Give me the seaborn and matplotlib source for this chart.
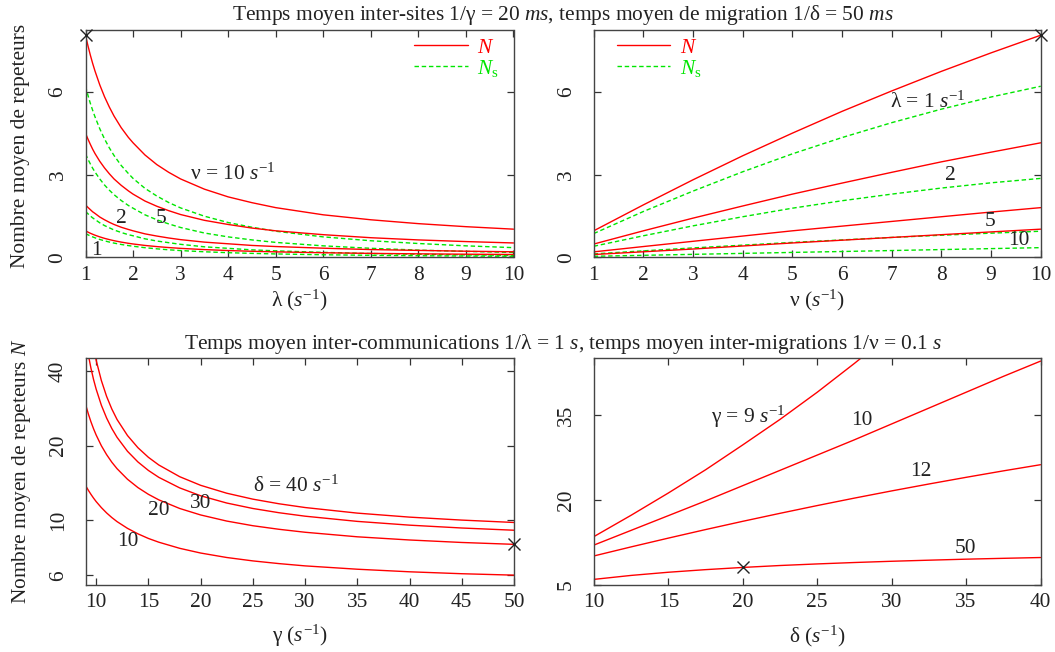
import matplotlib
matplotlib.use("Agg")
import matplotlib.pyplot as plt
from matplotlib.lines import Line2D
from matplotlib.ticker import FixedLocator, FixedFormatter, NullLocator
import seaborn as sns

# ---------------- data ----------------
# top-left: N and Ns versus lambda, one curve per nu
lam = [1, 1.05, 1.1, 1.15, 1.2, 1.3, 1.4, 1.5, 1.6, 1.75, 1.9, 2, 2.25, 2.5, 2.75,
       3, 3.5, 4, 4.5, 5, 6, 7, 8, 9, 10]
N_nu10 = [8.05, 7.68, 7.34, 7.03, 6.75, 6.25, 5.82, 5.45, 5.12, 4.70, 4.35, 4.15, 3.71, 3.36, 3.08,
          2.84, 2.47, 2.19, 1.98, 1.80, 1.54, 1.36, 1.22, 1.11, 1.02]
N_nu5 = [4.50, 4.29, 4.10, 3.92, 3.76, 3.48, 3.24, 3.03, 2.84, 2.61, 2.41, 2.29, 2.04, 1.85, 1.69,
         1.55, 1.34, 1.19, 1.06, 0.96, 0.82, 0.71, 0.63, 0.57, 0.52]
N_nu2 = [1.90, 1.81, 1.73, 1.65, 1.59, 1.46, 1.36, 1.27, 1.19, 1.09, 1.01, 0.96, 0.85, 0.77, 0.70,
         0.64, 0.55, 0.49, 0.43, 0.39, 0.33, 0.28, 0.25, 0.22, 0.20]
N_nu1 = [0.96, 0.915, 0.873, 0.836, 0.801, 0.740, 0.687, 0.642, 0.602, 0.551, 0.508, 0.483, 0.430,
         0.388, 0.353, 0.324, 0.279, 0.245, 0.218, 0.197, 0.165, 0.142, 0.125, 0.112, 0.101]
Ns_nu10 = [6.20, 5.88, 5.59, 5.33, 5.09, 4.66, 4.29, 3.97, 3.69, 3.33, 3.04, 2.86, 2.50, 2.22, 1.985,
           1.79, 1.49, 1.26, 1.09, 0.945, 0.74, 0.60, 0.50, 0.415, 0.35]
Ns_nu5 = [3.75, 3.56, 3.39, 3.23, 3.09, 2.84, 2.62, 2.435, 2.27, 2.06, 1.88, 1.78, 1.54, 1.36, 1.21,
          1.08, 0.88, 0.74, 0.63, 0.54, 0.415, 0.326, 0.261, 0.214, 0.177]
Ns_nu2 = [1.66, 1.58, 1.50, 1.43, 1.37, 1.25, 1.15, 1.07, 0.99, 0.90, 0.82, 0.78, 0.67, 0.59, 0.53,
          0.47, 0.38, 0.325, 0.27, 0.234, 0.179, 0.137, 0.110, 0.088, 0.072]
Ns_nu1 = [0.86, 0.816, 0.775, 0.740, 0.706, 0.647, 0.597, 0.553, 0.515, 0.466, 0.425, 0.401, 0.348,
          0.307, 0.272, 0.244, 0.200, 0.167, 0.142, 0.122, 0.092, 0.072, 0.057, 0.046, 0.037]

# top-right: N and Ns versus nu, one curve per lambda
nu = [1, 2, 3, 4, 5, 6, 7, 8, 9, 10]
N_lam1 = [0.96, 1.90, 2.81, 3.68, 4.50, 5.29, 6.03, 6.74, 7.41, 8.05]
N_lam2 = [0.48, 0.96, 1.42, 1.86, 2.29, 2.69, 3.08, 3.46, 3.81, 4.15]
N_lam5 = [0.197, 0.39, 0.58, 0.77, 0.96, 1.13, 1.30, 1.47, 1.64, 1.80]
N_lam10 = [0.101, 0.20, 0.30, 0.41, 0.52, 0.62, 0.72, 0.82, 0.92, 1.02]
Ns_lam1 = [0.86, 1.66, 2.40, 3.10, 3.75, 4.34, 4.88, 5.37, 5.81, 6.20]
Ns_lam2 = [0.40, 0.78, 1.14, 1.47, 1.78, 2.05, 2.29, 2.51, 2.70, 2.86]
Ns_lam5 = [0.122, 0.234, 0.34, 0.44, 0.54, 0.63, 0.72, 0.80, 0.875, 0.945]
Ns_lam10 = [0.037, 0.072, 0.107, 0.142, 0.177, 0.21, 0.245, 0.28, 0.315, 0.35]

# bottom-left: N versus gamma, one curve per delta
gam = [9, 9.25, 9.5, 9.75, 10, 10.5, 11, 11.5, 12, 13, 14, 15, 16, 18, 20,
       22.5, 25, 27.5, 30, 35, 40, 45, 50]
N_d10 = [13.78, 13.22, 12.73, 12.29, 11.90, 11.25, 10.71, 10.26, 9.88, 9.28, 8.82, 8.45, 8.16,
         7.71, 7.38, 7.08, 6.86, 6.69, 6.55, 6.35, 6.20, 6.09, 6.01]
N_d20 = [29.2, 26.87, 24.97, 23.40, 22.08, 19.98, 18.40, 17.15, 16.15, 14.64, 13.55, 12.73, 12.09,
         11.16, 10.51, 9.93, 9.51, 9.20, 8.95, 8.58, 8.33, 8.14, 8.00]
N_d30 = [54.1, 46.5, 41.1, 36.98, 33.8, 29.1, 25.85, 23.45, 21.61, 18.98, 17.19, 15.89, 14.90,
         13.51, 12.56, 11.74, 11.16, 10.73, 10.39, 9.90, 9.56, 9.31, 9.12]
N_d40 = [86.4, 68.7, 57.6, 49.9, 44.2, 36.6, 31.6, 28.1, 25.5, 21.97, 19.62, 17.95, 16.71,
         14.99, 13.84, 12.86, 12.17, 11.66, 11.26, 10.69, 10.30, 10.02, 9.80]

# bottom-right: N versus delta, one curve per gamma
dlt = [10, 12.5, 15, 17.5, 20, 22.5, 25, 27.5, 30, 32.5, 35, 37.5, 40]
N_g9 = [13.5, 17.27, 21.2, 25.3, 29.7, 34.2, 39.0, 44.1, 49.4]
N_g10 = [12.0, 14.6, 17.2, 19.8, 22.5, 25.2, 27.9, 30.6, 33.4, 36.2, 39.0, 41.8, 44.5]
N_g12 = [10.08, 11.68, 13.23, 14.74, 16.2, 17.61, 18.98, 20.30, 21.57, 22.79, 23.97, 25.11, 26.2]
N_g50 = [5.94, 6.64, 7.20, 7.66, 8.05, 8.39, 8.67, 8.92, 9.14, 9.33, 9.51, 9.66, 9.80]

# ---------------- style ----------------
sns.set_theme(style="ticks")
plt.rcParams['font.family'] = ['Liberation Serif', 'DejaVu Serif']
plt.rcParams['mathtext.fontset'] = 'custom'
plt.rcParams['mathtext.rm'] = 'Liberation Serif'
plt.rcParams['mathtext.it'] = 'Liberation Serif:italic'
plt.rcParams['mathtext.bf'] = 'Liberation Serif:bold'

RED = '#ff0000'
GREEN = '#00e600'
INK = '#222222'
FS = 15.4
DASH = (3.2, 2.0)

fig = plt.figure(figsize=(10.55, 6.52), dpi=100)
W, H = 1055.0, 652.0


def make_axes(x0, x1, y0, y1):
    return fig.add_axes([x0 / W, 1 - y1 / H, (x1 - x0) / W, (y1 - y0) / H])


ax_tl = make_axes(85.5, 513.5, 29.7, 257.3)
ax_tr = make_axes(593.7, 1040.7, 29.7, 257.3)
ax_bl = make_axes(85.7, 514.0, 358.3, 584.7)
ax_br = make_axes(593.9, 1040.5, 358.3, 584.7)


def curve(ax, x, y, color, dashed=False):
    sns.lineplot(x=x, y=y, ax=ax, color=color, lw=1.0, estimator=None, sort=False)
    line = ax.lines[-1]
    if dashed:
        line.set_dashes(DASH)
    return line


def style_axes(ax):
    for sp in ax.spines.values():
        sp.set_color('#444444')
        sp.set_linewidth(1.0)
    ax.tick_params(direction='in', length=5, width=0.9, color='#333333',
                   top=True, right=True, labelsize=FS, labelcolor=INK)
    ax.tick_params(axis='x', pad=6)
    ax.tick_params(axis='y', pad=13, labelrotation=90)
    for lb in ax.get_yticklabels():
        lb.set_va('center')


def mark(ax, x, y):
    ax.plot([x], [y], marker='x', color=INK, ms=8, mew=1.0, ls='none',
            clip_on=False, zorder=6)


# ---- top-left ----
for yN, yS in [(N_nu10, Ns_nu10), (N_nu5, Ns_nu5), (N_nu2, Ns_nu2), (N_nu1, Ns_nu1)]:
    curve(ax_tl, lam, yN, RED)
    curve(ax_tl, lam, yS, GREEN, dashed=True)
ax_tl.set_xlim(1, 10)
ax_tl.set_ylim(0, 8.25)
ax_tl.set_xticks(range(1, 11))
ax_tl.set_yticks([0, 3, 6])
mark(ax_tl, lam[0], N_nu10[0])
ax_tl.text(3.2, 3.0, r'ν = 10 $s^{-1}$', fontsize=FS, color=INK, ha='left', va='center')
ax_tl.text(1.75, 1.42, '2', fontsize=FS, color=INK, ha='center', va='center')
ax_tl.text(2.58, 1.40, '5', fontsize=FS, color=INK, ha='center', va='center')
ax_tl.text(1.23, 0.25, '1', fontsize=FS, color=INK, ha='center', va='center')
ax_tl.set_xlabel(r'λ ($s^{-1}$)', fontsize=FS, color=INK)
ax_tl.set_ylabel('Nombre moyen de repeteurs', fontsize=FS, color=INK)

# ---- top-right ----
for yN, yS in [(N_lam1, Ns_lam1), (N_lam2, Ns_lam2), (N_lam5, Ns_lam5), (N_lam10, Ns_lam10)]:
    curve(ax_tr, nu, yN, RED)
    curve(ax_tr, nu, yS, GREEN, dashed=True)
ax_tr.set_xlim(1, 10)
ax_tr.set_ylim(0, 8.25)
ax_tr.set_xticks(range(1, 11))
ax_tr.set_yticks([0, 3, 6])
mark(ax_tr, nu[-1], N_lam1[-1])
ax_tr.text(6.97, 5.61, r'λ = 1 $s^{-1}$', fontsize=FS, color=INK, ha='left', va='center')
ax_tr.text(8.19, 2.96, '2', fontsize=FS, color=INK, ha='center', va='center')
ax_tr.text(8.99, 1.28, '5', fontsize=FS, color=INK, ha='center', va='center')
ax_tr.text(9.55, 0.61, '10', fontsize=FS, color=INK, ha='center', va='center')
ax_tr.set_xlabel(r'ν ($s^{-1}$)', fontsize=FS, color=INK)


# legends of the two top panels
def add_legend(ax, x_anchor):
    handles = [Line2D([], [], color=RED, lw=1.0),
               Line2D([], [], color=GREEN, lw=1.0, dashes=DASH)]
    leg = ax.legend(handles, [r'$N$', r'$N_{\mathrm{s}}$'], loc='upper left',
                    bbox_to_anchor=(x_anchor, 0.965), frameon=False, fontsize=FS,
                    handlelength=2.5, handletextpad=0.45, labelspacing=0.0,
                    borderpad=0, borderaxespad=0)
    for txt, col in zip(leg.get_texts(), [RED, GREEN]):
        txt.set_color(col)


add_legend(ax_tl, 0.768)
add_legend(ax_tr, 0.052)

# ---- bottom-left ----
for yN in [N_d10, N_d20, N_d30, N_d40]:
    curve(ax_bl, gam, yN, RED)
ax_bl.set_yscale('log')
ax_bl.set_xlim(9, 50)
ax_bl.set_ylim(5.5, 45)
ax_bl.set_xticks(range(10, 51, 5))
ax_bl.yaxis.set_major_locator(FixedLocator([6, 10, 20, 40]))
ax_bl.yaxis.set_major_formatter(FixedFormatter(['6', '10', '20', '40']))
ax_bl.yaxis.set_minor_locator(NullLocator())
mark(ax_bl, gam[-1], N_d20[-1])
ax_bl.text(25.0, 13.7, r'δ = 40 $s^{-1}$', fontsize=FS, color=INK, ha='left', va='center')
ax_bl.text(20.0, 11.7, '30', fontsize=FS, color=INK, ha='center', va='center')
ax_bl.text(15.95, 10.96, '20', fontsize=FS, color=INK, ha='center', va='center')
ax_bl.text(13.0, 8.19, '10', fontsize=FS, color=INK, ha='center', va='center')
ax_bl.set_xlabel(r'γ ($s^{-1}$)', fontsize=FS, color=INK)
ax_bl.set_ylabel(r'Nombre moyen de repeteurs $N$', fontsize=FS, color=INK)

# ---- bottom-right ----
curve(ax_br, dlt[:len(N_g9)], N_g9, RED)
for yN in [N_g10, N_g12, N_g50]:
    curve(ax_br, dlt, yN, RED)
ax_br.set_xlim(10, 40)
ax_br.set_ylim(5, 45)
ax_br.set_xticks(range(10, 41, 5))
ax_br.set_yticks([5, 20, 35])
mark(ax_br, dlt[4], N_g50[4])
ax_br.text(17.84, 34.7, r'γ = 9 $s^{-1}$', fontsize=FS, color=INK, ha='left', va='center')
ax_br.text(27.98, 33.95, '10', fontsize=FS, color=INK, ha='center', va='center')
ax_br.text(31.98, 24.96, '12', fontsize=FS, color=INK, ha='center', va='center')
ax_br.text(34.98, 11.48, '50', fontsize=FS, color=INK, ha='center', va='center')
ax_br.set_xlabel(r'δ ($s^{-1}$)', fontsize=FS, color=INK)

for ax in (ax_tl, ax_tr, ax_bl, ax_br):
    style_axes(ax)
    ax.xaxis.label.set_va('center')
    ax.yaxis.label.set_va('center')

ax_tl.xaxis.set_label_coords(0.5, -0.188)
ax_tr.xaxis.set_label_coords(0.5, -0.188)
ax_bl.xaxis.set_label_coords(0.5, -0.227)
ax_br.xaxis.set_label_coords(0.5, -0.227)
ax_tl.yaxis.set_label_coords(-0.151, 0.49)
ax_bl.yaxis.set_label_coords(-0.151, 0.50)

# row titles
fig.text(563 / W, 1 - 15 / H,
         r'Temps moyen inter-sites 1/γ = 20 $ms$, temps moyen de migration 1/δ = 50 $ms$',
         fontsize=FS, color=INK, ha='center', va='center')
fig.text(563 / W, 1 - 344 / H,
         r'Temps moyen inter-communications 1/λ = 1 $s$, temps moyen inter-migrations 1/ν = 0.1 $s$',
         fontsize=FS, color=INK, ha='center', va='center')

fig.savefig('out.png', dpi=100)
